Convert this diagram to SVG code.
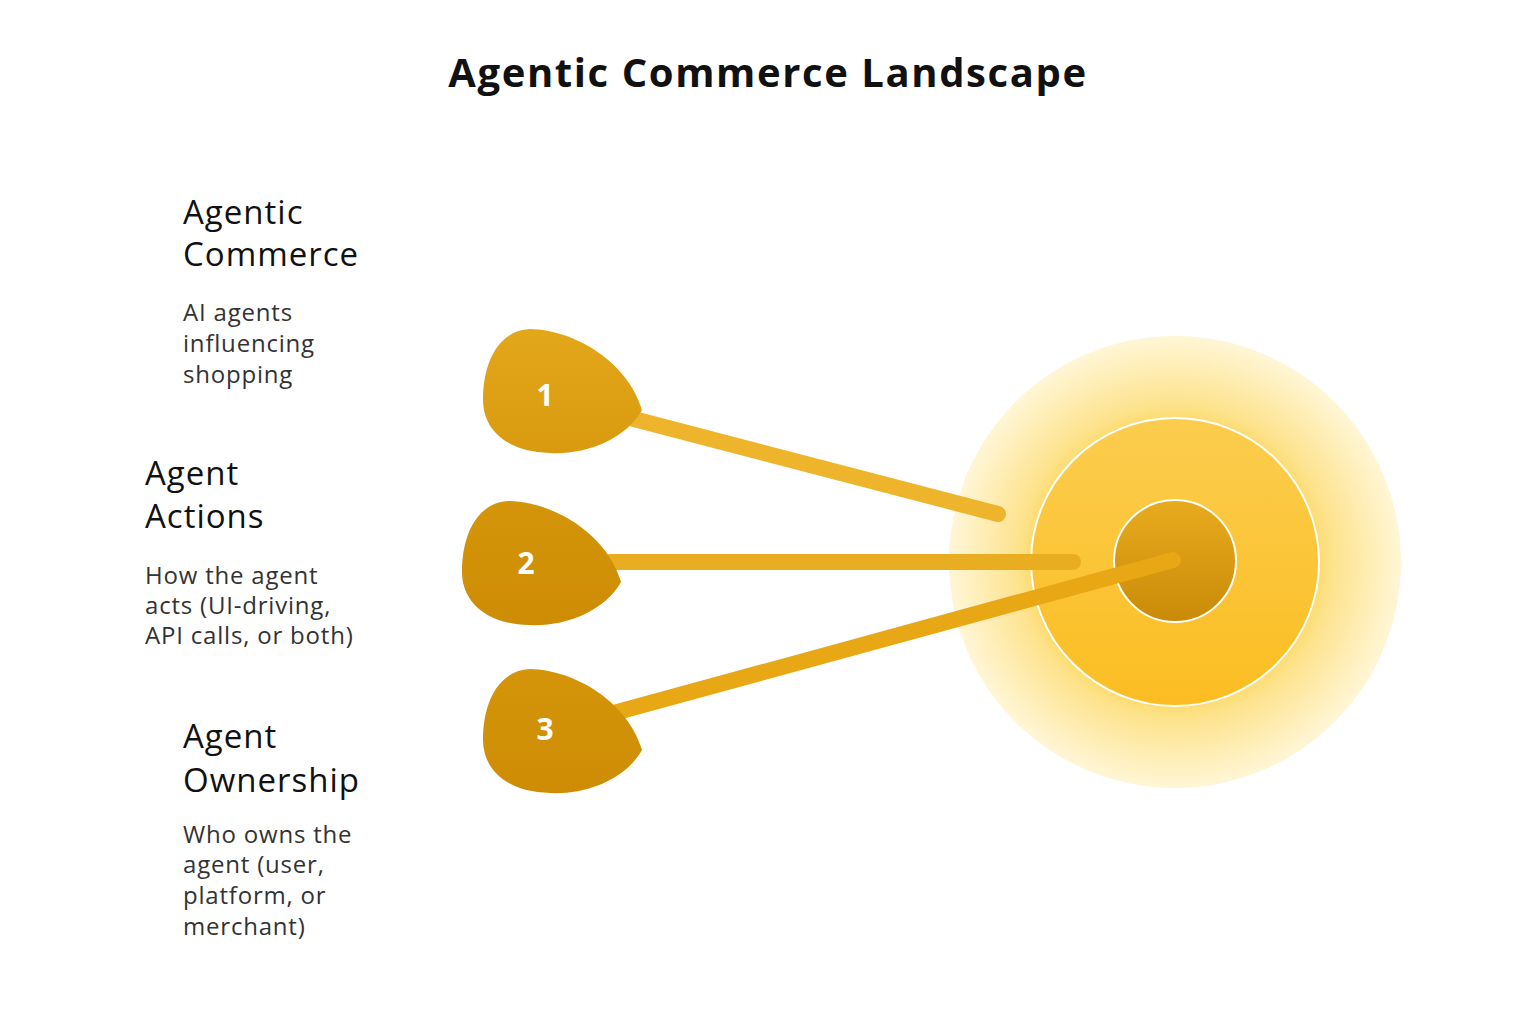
<svg xmlns="http://www.w3.org/2000/svg" width="1536" height="1024" viewBox="0 0 1536 1024">
<style>
.h{font-family:"Open Sans","Liberation Sans",sans-serif;font-size:33px;fill:#111;font-weight:500;letter-spacing:1px}
.d{font-family:"Open Sans","Liberation Sans",sans-serif;font-size:24px;fill:#333;letter-spacing:0.8px}
.n{font-family:"Open Sans","Liberation Sans",sans-serif;font-size:30px;fill:#fff;font-weight:700;text-anchor:middle}
.ln{stroke-width:16;stroke-linecap:round;fill:none}
</style>
<defs>
<radialGradient id="glow" cx="0.5" cy="0.5" r="0.5">
<stop offset="0.55" stop-color="#fbd24a"/><stop offset="0.7" stop-color="#fde38e"/><stop offset="1" stop-color="#fff6d6"/>
</radialGradient>
<linearGradient id="mid" x1="0" y1="0" x2="0" y2="1"><stop offset="0" stop-color="#fbcd4e"/><stop offset="1" stop-color="#fbbd22"/></linearGradient>
<linearGradient id="inn" x1="0" y1="0" x2="0" y2="1"><stop offset="0" stop-color="#e8ab1e"/><stop offset="1" stop-color="#c98a08"/></linearGradient>
<linearGradient id="t1" x1="0" y1="0" x2="0" y2="1"><stop offset="0" stop-color="#e3a71a"/><stop offset="1" stop-color="#d99a10"/></linearGradient>
<linearGradient id="t2" x1="0" y1="0" x2="0" y2="1"><stop offset="0" stop-color="#d4950a"/><stop offset="1" stop-color="#cd8c04"/></linearGradient>
<path id="drop" d="M642 410 C625 440 585 455 550 453 C505 452 483 428 483 400 C483 360 500 330 530 329 C575 330 628 362 642 410 Z"/>
</defs>
<text x="768" y="87" text-anchor="middle" style="font-family:'Open Sans','Liberation Sans',sans-serif;font-size:40px;font-weight:700;fill:#111;letter-spacing:1.6px">Agentic Commerce Landscape</text>
<g id="target">
<circle cx="1175" cy="562" r="226" fill="url(#glow)"/>
<circle cx="1175" cy="562" r="144" fill="url(#mid)" stroke="#fff" stroke-width="2"/>
<circle cx="1175" cy="561" r="61" fill="url(#inn)" stroke="#fff" stroke-width="2"/>
</g>
<g id="connectors">
<line class="ln" x1="630" y1="418" x2="998" y2="514" stroke="#eeb42c"/>
<line class="ln" x1="610" y1="562" x2="1073" y2="562" stroke="#e9ad22"/>
<line class="ln" x1="610" y1="714" x2="1173" y2="560" stroke="#e8a714"/>
</g>
<g id="node1"><use href="#drop" fill="url(#t1)"/><text class="n" x="545" y="406">1</text>
<text class="h" x="183" y="224">Agentic</text><text class="h" x="183" y="266">Commerce</text>
<text class="d" x="183" y="321">AI agents</text><text class="d" x="183" y="352">influencing</text><text class="d" x="183" y="383">shopping</text></g>
<g id="node2"><use href="#drop" transform="translate(-21 172)" fill="url(#t2)"/><text class="n" x="526" y="574">2</text>
<text class="h" x="145" y="485">Agent</text><text class="h" x="145" y="528">Actions</text>
<text class="d" x="145" y="584">How the agent</text><text class="d" x="145" y="614">acts (UI-driving,</text><text class="d" x="145" y="644">API calls, or both)</text></g>
<g id="node3"><use href="#drop" transform="translate(0 340)" fill="url(#t2)"/><text class="n" x="545" y="740">3</text>
<text class="h" x="183" y="748">Agent</text><text class="h" x="183" y="792">Ownership</text>
<text class="d" x="183" y="843">Who owns the</text><text class="d" x="183" y="873">agent (user,</text><text class="d" x="183" y="904">platform, or</text><text class="d" x="183" y="935">merchant)</text></g>
</svg>
